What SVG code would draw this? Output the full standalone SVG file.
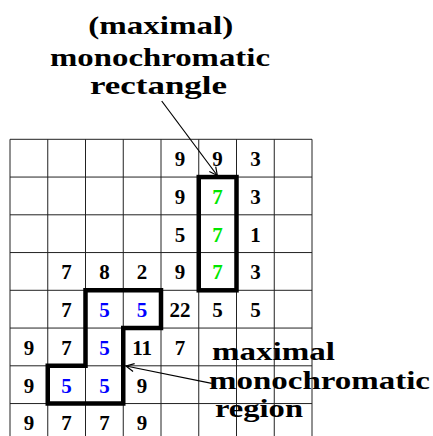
<svg xmlns="http://www.w3.org/2000/svg" width="433" height="436" viewBox="0 0 433 436">
<style>
.grid line{stroke:#222;stroke-width:1}
.n{font-family:"Liberation Serif",serif;font-weight:bold;font-size:21px;text-anchor:middle;fill:#000}
.g{fill:#00e600}
.b{fill:#0000ff}
.lbl{font-family:"Liberation Serif",serif;font-weight:bold;font-size:25px;fill:#000}
.thick{fill:none;stroke:#000;stroke-width:4.5;stroke-linejoin:miter}
.conn{stroke:#000;stroke-width:1.2;fill:none}
</style>
<defs>
<marker id="ah" markerUnits="userSpaceOnUse" markerWidth="14" markerHeight="12" refX="0" refY="0" viewBox="-9 -6 11 12" orient="auto">
<path d="M-8,-4 L0,0 L-8,4" fill="none" stroke="#000" stroke-width="1.2"/>
</marker>
</defs>
<rect width="433" height="436" fill="#fff"/>
<g id="grid" class="grid">
<line x1="10" y1="139.3" x2="10" y2="436"/>
<line x1="47.75" y1="139.3" x2="47.75" y2="436"/>
<line x1="85.5" y1="139.3" x2="85.5" y2="436"/>
<line x1="123.25" y1="139.3" x2="123.25" y2="436"/>
<line x1="161" y1="139.3" x2="161" y2="436"/>
<line x1="198.75" y1="139.3" x2="198.75" y2="436"/>
<line x1="236.5" y1="139.3" x2="236.5" y2="436"/>
<line x1="274.25" y1="139.3" x2="274.25" y2="436"/>
<line x1="312" y1="139.3" x2="312" y2="436"/>
<line x1="10" y1="139.3" x2="312" y2="139.3"/>
<line x1="10" y1="177.05" x2="312" y2="177.05"/>
<line x1="10" y1="214.8" x2="312" y2="214.8"/>
<line x1="10" y1="252.55" x2="312" y2="252.55"/>
<line x1="10" y1="290.3" x2="312" y2="290.3"/>
<line x1="10" y1="328.05" x2="312" y2="328.05"/>
<line x1="10" y1="365.8" x2="312" y2="365.8"/>
<line x1="10" y1="403.55" x2="312" y2="403.55"/>
</g>
<g id="numbers">
<text class="n" x="180" y="166">9</text><text class="n" x="217.6" y="166">9</text><text class="n" x="255.4" y="166">3</text>
<text class="n" x="180" y="203.8">9</text><text class="n g" x="217.6" y="203.8">7</text><text class="n" x="255.4" y="203.8">3</text>
<text class="n" x="180" y="241.5">5</text><text class="n g" x="217.6" y="241.5">7</text><text class="n" x="255.4" y="241.5">1</text>
<text class="n" x="66.6" y="279.3">7</text><text class="n" x="104.4" y="279.3">8</text><text class="n" x="142.1" y="279.3">2</text><text class="n" x="180" y="279.3">9</text><text class="n g" x="217.6" y="279.3">7</text><text class="n" x="255.4" y="279.3">3</text>
<text class="n" x="66.6" y="317">7</text><text class="n b" x="104.4" y="317">5</text><text class="n b" x="142.1" y="317">5</text><text class="n" x="180" y="317">22</text><text class="n" x="217.6" y="317">5</text><text class="n" x="255.4" y="317">5</text>
<text class="n" x="28.9" y="354.8">9</text><text class="n" x="66.6" y="354.8">7</text><text class="n b" x="104.4" y="354.8">5</text><text class="n" x="142.1" y="354.8">11</text><text class="n" x="180" y="354.8">7</text>
<text class="n" x="28.9" y="392.5">9</text><text class="n b" x="66.6" y="392.5">5</text><text class="n b" x="104.4" y="392.5">5</text><text class="n" x="142.1" y="392.5">9</text>
<text class="n" x="28.9" y="430.3">9</text><text class="n" x="66.6" y="430.3">7</text><text class="n" x="104.4" y="430.3">7</text><text class="n" x="142.1" y="430.3">9</text>
</g>
<g id="rectangle">
<rect class="thick" x="198.75" y="177.05" width="37.75" height="113.25"/>
</g>
<g id="region">
<path class="thick" d="M85.5,290.3 L161,290.3 L161,328.05 L123.25,328.05 L123.25,403.55 L47.75,403.55 L47.75,365.8 L85.5,365.8 Z"/>
</g>
<g id="connectors">
<line class="conn" x1="161.7" y1="101" x2="217.3" y2="175.5" marker-end="url(#ah)"/>
<line class="conn" x1="211.7" y1="383.3" x2="126" y2="366" marker-end="url(#ah)"/>
</g>
<g id="label-rectangle">
<text class="lbl" x="160.7" y="34" text-anchor="middle" textLength="145" lengthAdjust="spacingAndGlyphs">(maximal)</text>
<text class="lbl" x="160" y="65.5" text-anchor="middle" textLength="220" lengthAdjust="spacingAndGlyphs">monochromatic</text>
<text class="lbl" x="158.5" y="93.5" text-anchor="middle" textLength="137" lengthAdjust="spacingAndGlyphs">rectangle</text>
</g>
<g id="label-region">
<text class="lbl" x="212" y="360" textLength="123" lengthAdjust="spacingAndGlyphs">maximal</text>
<text class="lbl" x="209" y="388.5" textLength="221" lengthAdjust="spacingAndGlyphs">monochromatic</text>
<text class="lbl" x="215" y="417" textLength="88" lengthAdjust="spacingAndGlyphs">region</text>
</g>
</svg>
